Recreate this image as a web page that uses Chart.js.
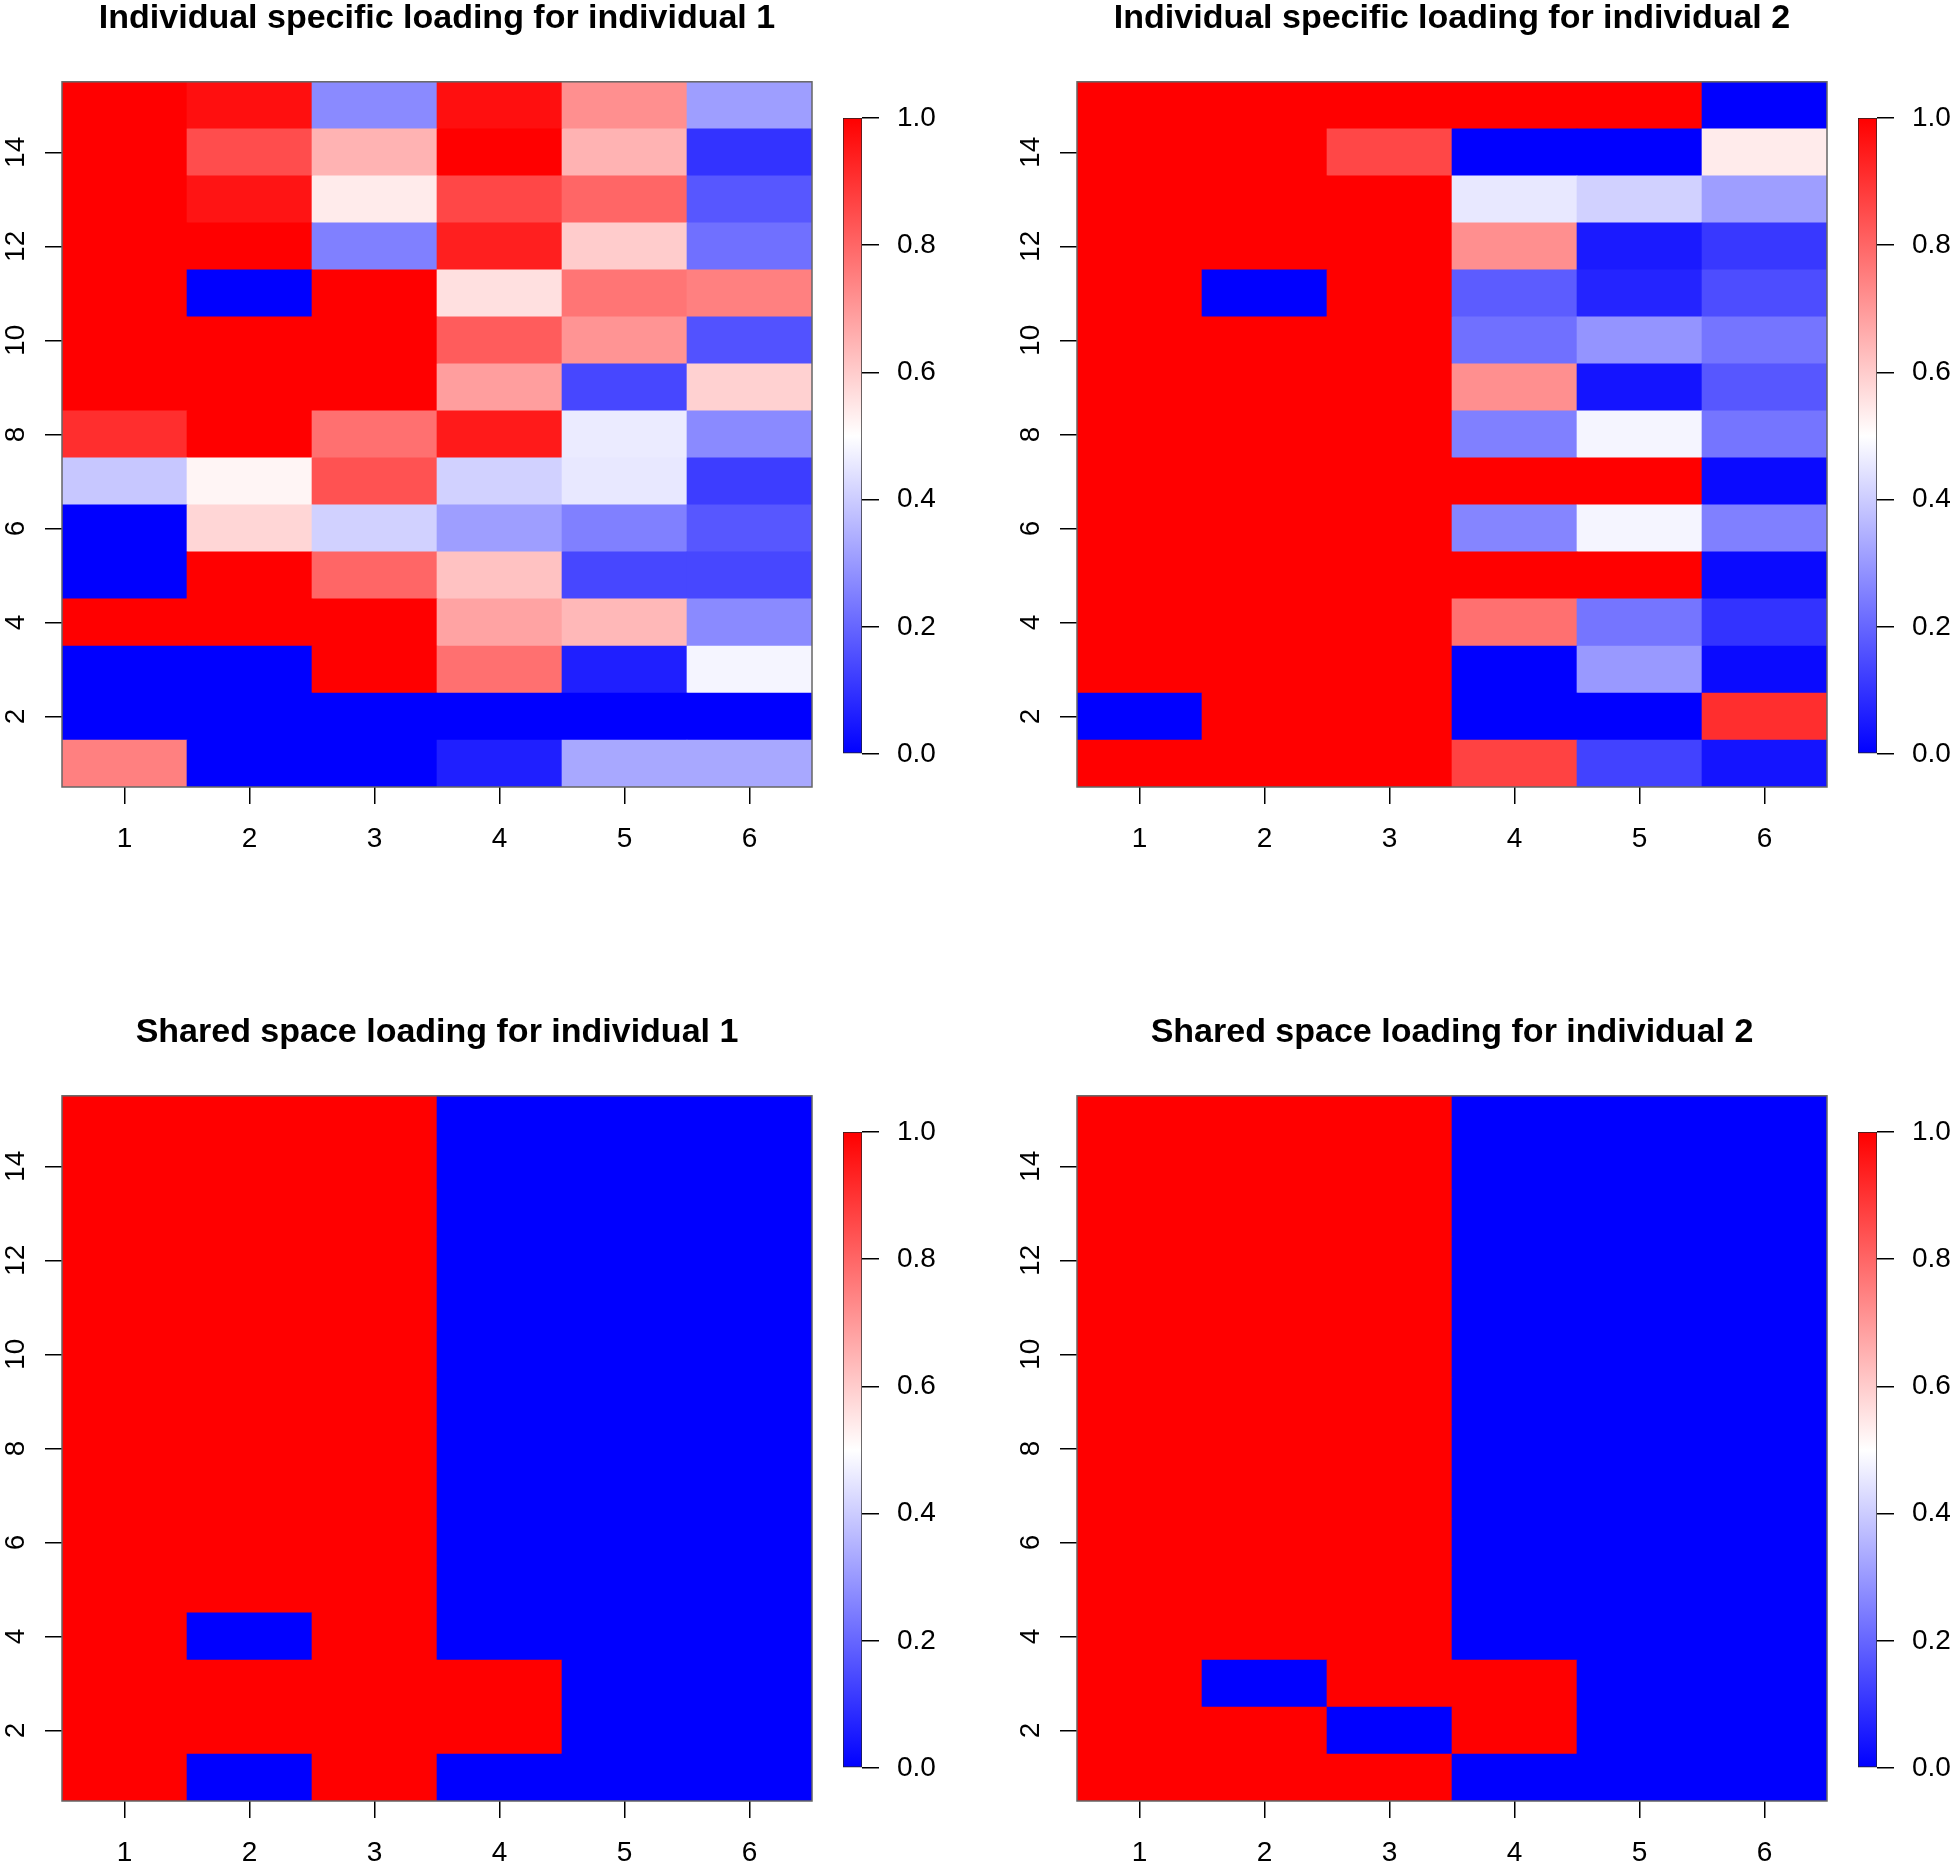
<!DOCTYPE html>
<html>
<head>
<meta charset="utf-8">
<script src="https://cdn.jsdelivr.net/npm/chart.js@4.4.1/dist/chart.umd.min.js"></script>
<style>
html, body { margin: 0; padding: 0; background: #fff; width: 1950px; height: 1864px; overflow: hidden; }
canvas { position: absolute; }
</style>
</head>
<body>
<script>
// heatmap categories and tick labels
const columns = ['1', '2', '3', '4', '5', '6'];
const rowNumbers = [1, 2, 3, 4, 5, 6, 7, 8, 9, 10, 11, 12, 13, 14, 15];
const yTicks = [2, 4, 6, 8, 10, 12, 14];
const colorbarTicks = [0, 0.2, 0.4, 0.6, 0.8, 1.0];

const titles = [
  'Individual specific loading for individual 1',
  'Individual specific loading for individual 2',
  'Shared space loading for individual 1',
  'Shared space loading for individual 2'
];

// one row per line, row 1 (bottom) first
const specific1 = [
  [0.75, 0.00, 0.00, 0.06, 0.33, 0.33],
  [0.00, 0.00, 0.00, 0.00, 0.00, 0.00],
  [0.00, 0.00, 1.00, 0.78, 0.06, 0.48],
  [1.00, 1.00, 1.00, 0.68, 0.64, 0.27],
  [0.00, 1.00, 0.80, 0.62, 0.14, 0.14],
  [0.00, 0.58, 0.41, 0.31, 0.25, 0.17],
  [0.39, 0.52, 0.84, 0.41, 0.455, 0.12],
  [0.91, 1.00, 0.78, 0.95, 0.46, 0.27],
  [1.00, 1.00, 1.00, 0.69, 0.14, 0.59],
  [1.00, 1.00, 1.00, 0.82, 0.71, 0.16],
  [1.00, 0.00, 1.00, 0.56, 0.77, 0.75],
  [1.00, 1.00, 0.25, 0.94, 0.60, 0.22],
  [1.00, 0.96, 0.54, 0.86, 0.80, 0.17],
  [1.00, 0.85, 0.65, 1.00, 0.65, 0.10],
  [1.00, 0.97, 0.27, 0.97, 0.72, 0.31]
];

const specific2 = [
  [1, 1, 1, 0.87, 0.13, 0.04],
  [0, 1, 1, 0.00, 0.00, 0.91],
  [1, 1, 1, 0.00, 0.30, 0.02],
  [1, 1, 1, 0.78, 0.23, 0.10],
  [1, 1, 1, 1.00, 1.00, 0.02],
  [1, 1, 1, 0.26, 0.48, 0.25],
  [1, 1, 1, 1.00, 1.00, 0.02],
  [1, 1, 1, 0.25, 0.48, 0.23],
  [1, 1, 1, 0.72, 0.04, 0.17],
  [1, 1, 1, 0.22, 0.29, 0.23],
  [1, 0, 1, 0.18, 0.07, 0.15],
  [1, 1, 1, 0.72, 0.05, 0.11],
  [1, 1, 1, 0.455, 0.41, 0.31],
  [1, 1, 0.86, 0.00, 0.00, 0.54],
  [1, 1, 1, 1.00, 1.00, 0.00]
];

const shared1 = [
  [1, 0, 1, 0, 0, 0],
  [1, 1, 1, 1, 0, 0],
  [1, 1, 1, 1, 0, 0],
  [1, 0, 1, 0, 0, 0],
  [1, 1, 1, 0, 0, 0],
  [1, 1, 1, 0, 0, 0],
  [1, 1, 1, 0, 0, 0],
  [1, 1, 1, 0, 0, 0],
  [1, 1, 1, 0, 0, 0],
  [1, 1, 1, 0, 0, 0],
  [1, 1, 1, 0, 0, 0],
  [1, 1, 1, 0, 0, 0],
  [1, 1, 1, 0, 0, 0],
  [1, 1, 1, 0, 0, 0],
  [1, 1, 1, 0, 0, 0]
];

const shared2 = [
  [1, 1, 1, 0, 0, 0],
  [1, 1, 0, 1, 0, 0],
  [1, 0, 1, 1, 0, 0],
  [1, 1, 1, 0, 0, 0],
  [1, 1, 1, 0, 0, 0],
  [1, 1, 1, 0, 0, 0],
  [1, 1, 1, 0, 0, 0],
  [1, 1, 1, 0, 0, 0],
  [1, 1, 1, 0, 0, 0],
  [1, 1, 1, 0, 0, 0],
  [1, 1, 1, 0, 0, 0],
  [1, 1, 1, 0, 0, 0],
  [1, 1, 1, 0, 0, 0],
  [1, 1, 1, 0, 0, 0],
  [1, 1, 1, 0, 0, 0]
];

const matrices = [specific1, specific2, shared1, shared2];

const family = '"Liberation Sans", Arial, sans-serif';
const tickSize = 28;

// blue -> white -> red
function loadingColor(v) {
  if (v < 0.5) {
    const c = Math.round(255 * v / 0.5);
    return `rgb(${c},${c},255)`;
  }
  const c = Math.round(255 * (1 - v) / 0.5);
  return `rgb(255,${c},${c})`;
}

function addCanvas(left, top, w, h) {
  const c = document.createElement('canvas');
  c.width = w; c.height = h;
  c.style.left = left + 'px'; c.style.top = top + 'px';
  c.style.width = w + 'px'; c.style.height = h + 'px';
  document.body.appendChild(c);
  return c;
}

const plotBox = {
  id: 'plotBox',
  afterDatasetsDraw(chart) {
    const a = chart.chartArea, ctx = chart.ctx;
    ctx.save();
    ctx.strokeStyle = '#666';
    ctx.lineWidth = 1.5;
    ctx.strokeRect(a.left, a.top, a.right - a.left, a.bottom - a.top);
    ctx.restore();
  }
};

// R style y labels, turned to read bottom to top
const rotatedYLabels = {
  id: 'rotatedYLabels',
  afterDraw(chart) {
    const y = chart.scales.y, ctx = chart.ctx;
    ctx.save();
    ctx.font = tickSize + 'px ' + family;
    ctx.fillStyle = '#000';
    ctx.textAlign = 'center';
    ctx.textBaseline = 'middle';
    y.ticks.forEach(t => {
      ctx.save();
      ctx.translate(y.left + 16, y.getPixelForValue(t.value));
      ctx.rotate(-Math.PI / 2);
      ctx.fillText(String(t.value), 0, 0);
      ctx.restore();
    });
    ctx.restore();
  }
};

function heatmap(canvas, title, matrix) {
  const datasets = rowNumbers.map((r, i) => ({
    data: columns.map(() => [r - 0.5, r + 0.5]),
    backgroundColor: matrix[i].map(loadingColor),
    borderWidth: 0,
    grouped: false,
    barPercentage: 1,
    categoryPercentage: 1
  }));
  return new Chart(canvas, {
    type: 'bar',
    data: { labels: columns, datasets: datasets },
    options: {
      responsive: false,
      animation: false,
      devicePixelRatio: 1,
      layout: { padding: { left: 0, right: 18, top: 0, bottom: 0 } },
      plugins: {
        legend: { display: false },
        tooltip: { enabled: false },
        title: {
          display: true, text: title, fullSize: false, color: '#000',
          font: { family: family, size: 34, weight: 'bold' },
          padding: { top: 0, bottom: 43 }
        }
      },
      scales: {
        x: {
          offset: true,
          grid: { offset: false, drawOnChartArea: false, tickLength: 17, color: '#000', lineWidth: 1.5 },
          border: { display: false },
          ticks: { color: '#000', font: { family: family, size: tickSize }, padding: 18, maxRotation: 0 },
          afterFit: s => { s.height = 80; }
        },
        y: {
          type: 'linear', min: 0.5, max: 15.5,
          afterBuildTicks: s => { s.ticks = yTicks.map(v => ({ value: v })); },
          grid: { drawOnChartArea: false, tickLength: 17, color: '#000', lineWidth: 1.5 },
          border: { display: false },
          ticks: { display: false },
          afterFit: s => { s.width = 62; }
        }
      }
    },
    plugins: [plotBox, rotatedYLabels]
  });
}

function colorbar(canvas) {
  return new Chart(canvas, {
    type: 'bar',
    data: {
      labels: [''],
      datasets: [{
        data: [[0, 1]],
        backgroundColor: c => {
          const a = c.chart.chartArea;
          if (!a || !isFinite(a.top) || !isFinite(a.bottom)) return '#fff';
          const g = c.chart.ctx.createLinearGradient(0, a.bottom, 0, a.top);
          g.addColorStop(0, loadingColor(0));
          g.addColorStop(0.5, loadingColor(0.5));
          g.addColorStop(1, loadingColor(1));
          return g;
        },
        borderColor: '#222',
        borderWidth: 1,
        borderSkipped: false,
        barPercentage: 1,
        categoryPercentage: 1
      }]
    },
    options: {
      responsive: false,
      animation: false,
      devicePixelRatio: 1,
      layout: { padding: { left: 0, right: 0, top: 20, bottom: 20 } },
      plugins: { legend: { display: false }, tooltip: { enabled: false } },
      scales: {
        x: { display: false },
        y: {
          position: 'right', min: 0, max: 1,
          afterBuildTicks: s => { s.ticks = colorbarTicks.map(v => ({ value: v })); },
          grid: { drawOnChartArea: false, tickLength: 17, color: '#000', lineWidth: 1.5 },
          border: { display: false },
          ticks: { color: '#000', font: { family: family, size: tickSize }, padding: 18, callback: v => v.toFixed(1) },
          afterFit: s => { s.width = 85; s.paddingTop = 0; s.paddingBottom = 0; }
        }
      }
    }
  });
}

const offsets = [[0, 0], [1015, 0], [0, 1014], [1015, 1014]];
offsets.forEach(([ox, oy], i) => {
  heatmap(addCanvas(ox, oy - 2, 830, 869), titles[i], matrices[i]);
  colorbar(addCanvas(ox + 843, oy + 98, 104, 676));
});
</script>
</body>
</html>
